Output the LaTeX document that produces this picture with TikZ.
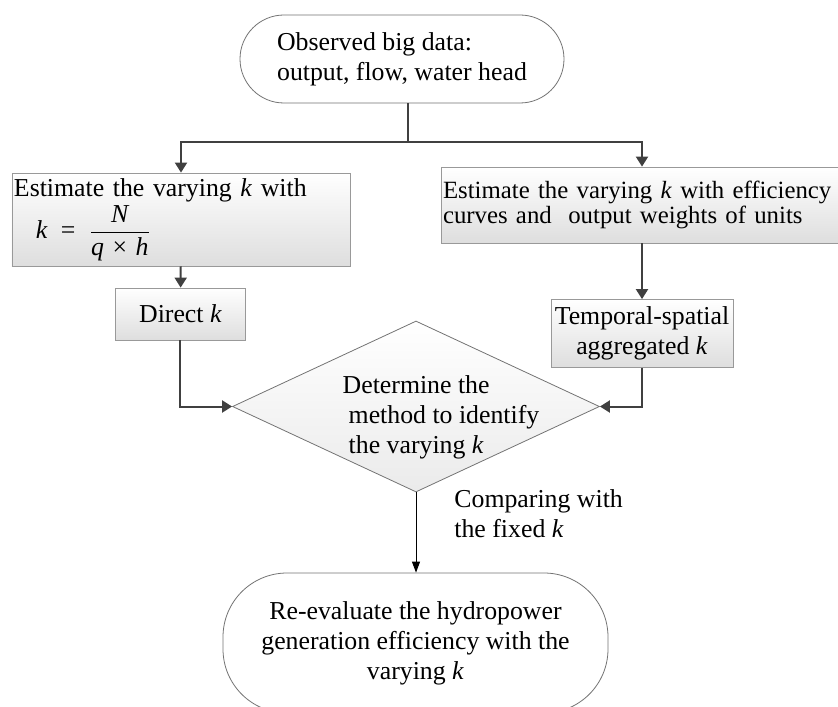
\documentclass[tikz,border=0pt]{standalone}
\usepackage{amsmath, amssymb}
\usepackage{fontspec}
\setmainfont{Liberation Serif}
\usepackage{tikz}
\usetikzlibrary{calc, arrows.meta, shapes.geometric, positioning}
\tikzset{
    termnode/.style = {draw=black!55, fill=white, rectangle, rounded corners=22pt, inner sep=0em,
      node distance=0em, align=left},
    procnode/.style = {draw=black!40, rectangle, top color=white, bottom color=black!13,
      inner ysep=0em, inner xsep=1pt, node distance=0em, align=center},
    decnode/.style = {draw=black!55, diamond, top color=white, bottom color=black!8,
      inner sep=0em, node distance=0em},
    textnode/.style = {draw=none, fill=none, rectangle, inner sep=0em, node distance=0em, align=left},
    link/.style = {draw=black!75, line width=1pt},
    flow/.style = {draw=black!75, line width=1pt, -{Triangle[length=5pt,width=6pt]}},
    thinflow/.style = {black, line width=0.5pt, -{Triangle[length=5.5pt,width=4pt]}}
}
\newcommand{\kk}{\textit{k}}

\begin{document}
\begin{tikzpicture}[font=\fontsize{12.9}{15}\selectfont]
    \useasboundingbox (-201pt,29.5pt) rectangle (218pt,-323.5pt);

    \node [name=obs, termnode, minimum width=162pt, minimum height=44pt]
        {Observed big data:\\output, flow, water head};

    \node [name=est1, procnode, below of = obs, xshift=-110.5pt, yshift=-80.25pt,
        text width=167pt, minimum height=46.5pt, align=left]
        {Estimate the varying \kk{} with\\[1pt]
         \hspace*{11pt}$\textit{k}\;\mathrel{\text{=}}\;\dfrac{\textit{N}}{\text{\textit{q} × \textit{h}}}$};
    \node [name=est2, procnode, below of = obs, xshift=123pt, yshift=-73pt,
        text width=205pt, minimum height=38pt, align=left, font=\fontsize{12.4}{12.5}\selectfont]
        {Estimate the varying \kk{} with efficiency\\curves and \ output weights of units};

    \node [name=direct, procnode, below of = obs, xshift=-110.75pt, yshift=-127.5pt,
        minimum width=65pt, minimum height=26pt] {Direct \kk};
    \node [name=temporal, procnode, below of = obs, xshift=120pt, yshift=-137.25pt,
        minimum width=91pt, minimum height=34pt] {Temporal-spatial\\aggregated \kk};

    \node [name=decide, decnode, below of = obs, xshift=7pt, yshift=-173.75pt,
        minimum width=183.5pt, minimum height=85.5pt,
        label={[textnode, xshift=12.5pt, yshift=-5.25pt]center:{Determine the\\
          \hspace*{3pt}method to identify\\\hspace*{3pt}the varying \kk}}] {};

    \node [name=final, termnode, rounded corners=32pt, below of = obs, xshift=6.75pt, yshift=-292pt,
        minimum width=192.5pt, minimum height=70pt, align=center]
        {Re-evaluate the hydropower\\generation efficiency with the\\varying \kk};

    \node [name=compare, textnode, below of = obs, xshift=26pt, yshift=-227.5pt, anchor=west]
        {Comparing with\\the fixed \kk};

    % split of the observed data
    \coordinate (split) at ($(obs)+(3pt,-41.5pt)$);
    \draw [link] (obs.south -| split) -- (split);
    \draw [flow] (split) -| (est1);
    \draw [flow] (split) -| (temporal |- est2.north);

    \draw [flow] (est1) -- (direct);
    \draw [flow] (est2.south -| temporal) -- (temporal);
    \draw [flow] (direct) |- (decide.west);
    \draw [flow] (temporal) |- (decide.east);

    \draw [thinflow] (decide.south) -- (decide.south |- final.north);
\end{tikzpicture}
\end{document}
